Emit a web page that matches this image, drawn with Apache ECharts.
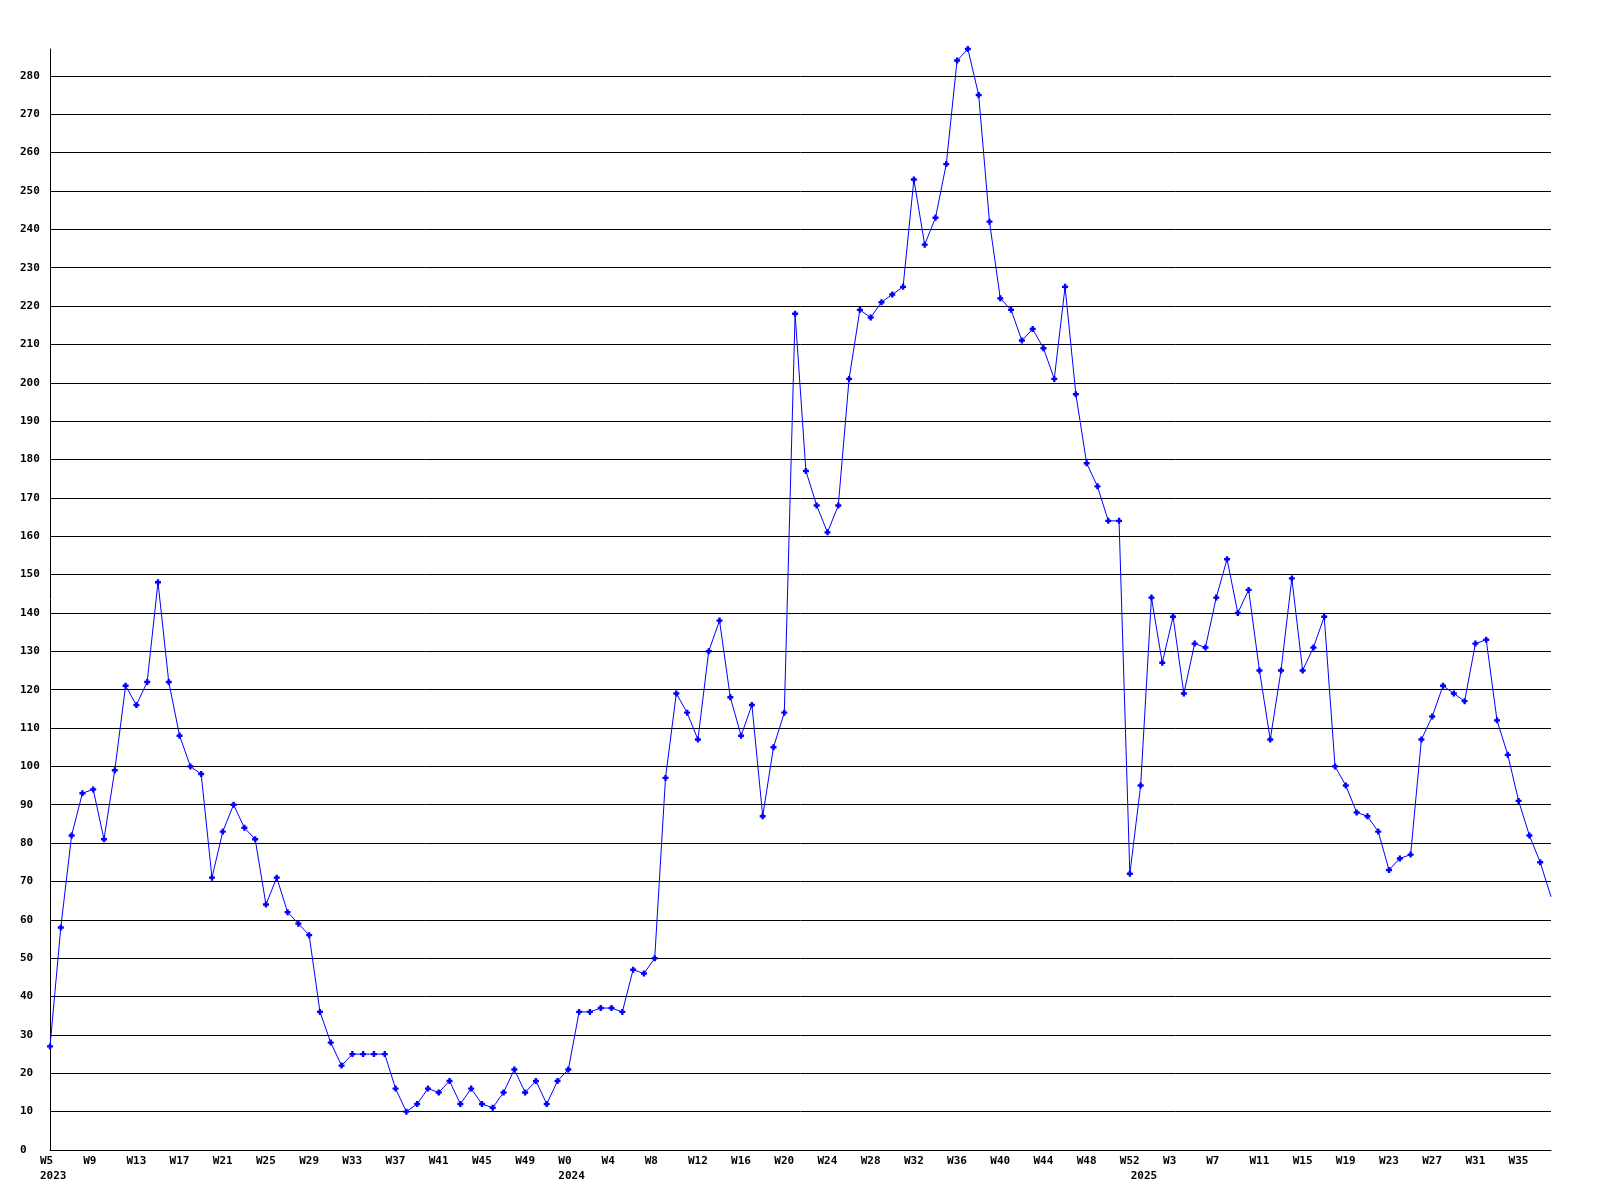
<!DOCTYPE html>
<html>
<head>
<meta charset="utf-8">
<title>Weekly count</title>
<script src="https://cdn.jsdelivr.net/npm/echarts@6/dist/echarts.min.js"></script>
<style>
  html, body { margin: 0; padding: 0; background: #fff; }
  #weekly { width: 1600px; height: 1200px; }
</style>
</head>
<body>
<div id="weekly"></div>
<script>
// first week number shown for each year
const years = ['2023', '2024', '2025'];
const firstWeek = [5, 0, 0];

// weekly values per year
const values2023 = [27, 58, 82, 93, 94, 81, 99, 121, 116, 122,
  148, 122, 108, 100, 98, 71, 83, 90, 84, 81,
  64, 71, 62, 59, 56, 36, 28, 22, 25, 25,
  25, 25, 16, 10, 12, 16, 15, 18, 12, 16,
  12, 11, 15, 21, 15, 18, 12, 18];
const values2024 = [21, 36, 36, 37, 37, 36, 47, 46, 50, 97,
  119, 114, 107, 130, 138, 118, 108, 116, 87, 105,
  114, 218, 177, 168, 161, 168, 201, 219, 217, 221,
  223, 225, 253, 236, 243, 257, 284, 287, 275, 242,
  222, 219, 211, 214, 209, 201, 225, 197, 179, 173,
  164, 164, 72];
const values2025 = [95, 144, 127, 139, 119, 132, 131, 144, 154, 140,
  146, 125, 107, 125, 149, 125, 131, 139, 100, 95,
  88, 87, 83, 73, 76, 77, 107, 113, 121, 119,
  117, 132, 133, 112, 103, 91, 82, 75, 66];

const perYear = [values2023, values2024, values2025];

// build the category list: week label + year on the first week of a year
const weeks = [];
const yearAt = {};
const values = [];
perYear.forEach((list, y) => {
  list.forEach((v, i) => {
    if (i === 0) yearAt[weeks.length] = years[y];
    weeks.push('W' + (firstWeek[y] + i));
    values.push(v);
  });
});

const seriesData = values.map((v, i) => (i === values.length - 1 ? { value: v, symbol: 'none' } : v));

const font = 'DejaVu Sans Mono';
const chart = echarts.init(document.getElementById('weekly'));
chart.setOption({
  animation: false,
  backgroundColor: '#ffffff',
  grid: { left: 50, top: 49, width: 1501, height: 1101 },
  xAxis: {
    type: 'category',
    data: weeks,
    boundaryGap: false,
    axisLine: { lineStyle: { color: '#000', width: 1 } },
    axisTick: { show: false },
    splitLine: { show: false },
    axisLabel: {
      interval(index) {
        return index % 4 === 0 || yearAt[index] !== undefined;
      },
      formatter(value, index) {
        const wk = index % 4 === 0 ? value : '';
        return yearAt[index] ? wk + '\n' + yearAt[index] : wk;
      },
      align: 'left',
      padding: [0, 0, 0, -10],
      margin: 4,
      lineHeight: 15,
      color: '#000',
      fontFamily: font,
      fontWeight: 'bold',
      fontSize: 11,
    },
  },
  yAxis: {
    type: 'value',
    min: 0,
    max: 'dataMax',
    interval: 10,
    axisLine: { show: true, lineStyle: { color: '#000', width: 1 } },
    axisTick: { show: false },
    splitLine: {
      show: true,
      showMaxLine: false,
      lineStyle: { color: '#000', width: 1 },
    },
    axisLabel: {
      showMaxLabel: false,
      align: 'left',
      margin: 30,
      color: '#000',
      fontFamily: font,
      fontWeight: 'bold',
      fontSize: 11,
    },
  },
  series: [{
    type: 'line',
    data: seriesData,
    symbol: 'path://M1.5,0H3.5V1.5H5V3.5H3.5V5H1.5V3.5H0V1.5H1.5Z',
    symbolSize: 6,
    showAllSymbol: true,
    lineStyle: { color: '#0000ff', width: 1 },
    itemStyle: { color: '#0000ff' },
  }],
});
</script>
</body>
</html>
